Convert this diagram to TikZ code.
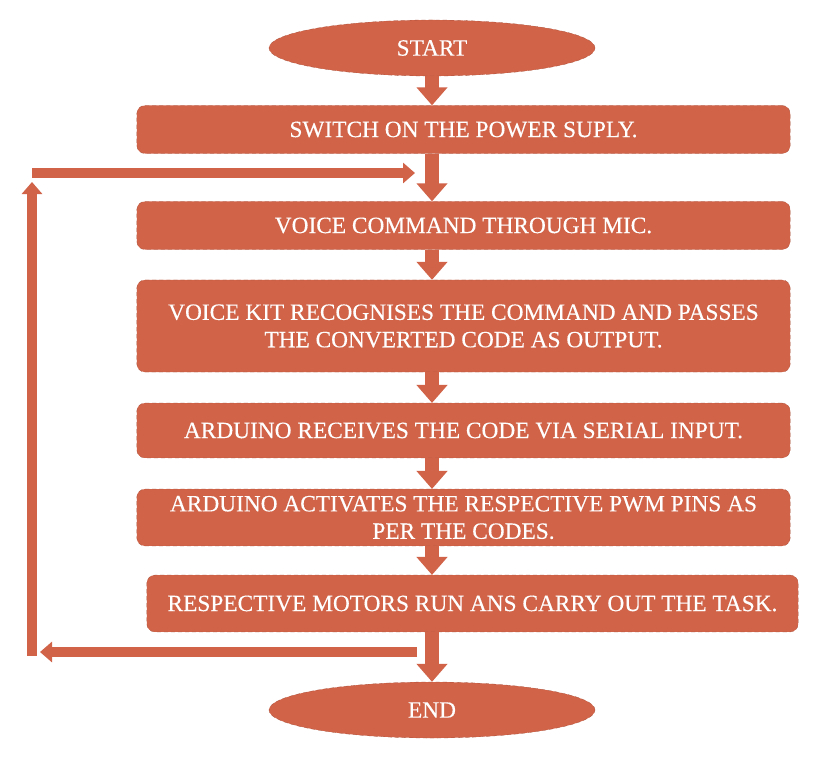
\documentclass[tikz,border=0pt]{standalone}
\usepackage{fontspec}
\setmainfont{Liberation Serif}[FakeBold=0.3]
\usetikzlibrary{arrows.meta,shapes.geometric}
\definecolor{brick}{RGB}{208,99,72}

\begin{document}
\begin{tikzpicture}[x=0.025cm,y=-0.025cm,
    box/.style={fill=brick,draw=brick!80!black,densely dashed,very thin,rounded corners=0.2cm,
        text=white,align=center,font=\fontsize{16.6}{19.5}\selectfont,minimum height=#1},
    box/.default=1.2cm,
    oval/.style={ellipse,fill=brick,draw=brick!80!black,densely dashed,very thin,
        text=white,font=\fontsize{16.6}{19.5}\selectfont,minimum width=8.15cm,minimum height=1.4cm},
    flow/.style={brick,line width=0.36cm,-{Triangle[width=0.75cm,length=0.45cm]}},
    loop/.style={brick,line width=0.25cm,-{Triangle[width=0.5cm,length=0.3cm]}}]
    \useasboundingbox (0,0) rectangle (813,756);
    % blocks
    \node[oval] (start) at (432,48) {START};
    \node[box,minimum width=16.33cm] (b1) at (463.5,129.5) {SWITCH ON THE POWER SUPLY.};
    \node[box,minimum width=16.33cm] (b2) at (463.5,225.5) {VOICE COMMAND THROUGH MIC.};
    \node[box=2.3cm,minimum width=16.33cm] (b3) at (463.5,326) {VOICE KIT RECOGNISES THE COMMAND AND PASSES\\THE CONVERTED CODE AS OUTPUT.};
    \node[box=1.37cm,minimum width=16.33cm] (b4) at (463.5,430.5) {ARDUINO RECEIVES THE CODE VIA SERIAL INPUT.};
    \node[box=1.42cm,minimum width=16.33cm] (b5) at (463.5,517.5) {ARDUINO ACTIVATES THE RESPECTIVE PWM PINS AS\\PER THE CODES.};
    \node[box=1.42cm,minimum width=16.28cm] (b6) at (472.5,603.5) {RESPECTIVE MOTORS RUN ANS CARRY OUT THE TASK.};
    \node[oval] (end) at (432,710) {END};
    % main flow
    \draw[flow] (start.south) -- (start.south |- b1.north);
    \draw[flow] (b1.south -| start) -- (b2.north -| start);
    \draw[flow] (b2.south -| start) -- (b3.north -| start);
    \draw[flow] (b3.south -| start) -- (b4.north -| start);
    \draw[flow] (b4.south -| start) -- (b5.north -| start);
    \draw[flow] (b5.south -| start) -- (b6.north -| start);
    \draw[flow] (b6.south -| start) -- (end.north);
    % feedback
    \coordinate (fa) at (417,652);
    \coordinate (fb) at (40,652);
    \coordinate (fc) at (32,656);
    \coordinate (fd) at (32,182);
    \coordinate (fe) at (32,173);
    \coordinate (ff) at (415,173);
    \draw[loop] (fa) -- (fb);
    \draw[loop] (fc) -- (fd);
    \draw[loop] (fe) -- (ff);
\end{tikzpicture}
\end{document}
